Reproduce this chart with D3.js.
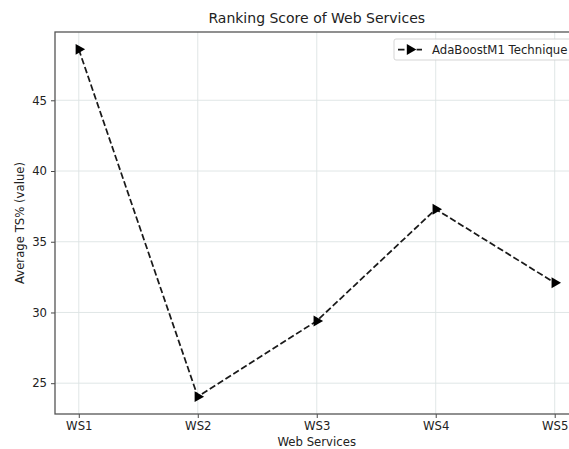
<!DOCTYPE html>
<html>
<head>
<meta charset="utf-8">
<script src="https://cdn.jsdelivr.net/npm/d3@7"></script>
<style>
  html, body { margin: 0; padding: 0; background: #fff; }
  svg { display: block; font-family: "DejaVu Sans", sans-serif; }
</style>
</head>
<body>
<svg id="chart" width="569" height="449"></svg>
<script>
// Ranking data per web service
const services = ["WS1", "WS2", "WS3", "WS4", "WS5"];
const scores = [48.6, 24.05, 29.4, 37.3, 32.1];
const yTicks = [25, 30, 35, 40, 45];
const seriesName = "AdaBoostM1 Technique";

const W = 569, H = 449;
const plot = { left: 55, top: 32, right: 578.5, bottom: 414 };
const labelSize = "11.7px";

const svg = d3.select("#chart");

// x: categorical positions with 5% padding on each side
const xIdx = d3.scaleLinear()
  .domain([-0.2, services.length - 1 + 0.2])
  .range([plot.left, plot.right]);

const yMin = d3.min(scores), yMax = d3.max(scores);
const pad = (yMax - yMin) * 0.05;
const y = d3.scaleLinear()
  .domain([yMin - pad, yMax + pad])
  .range([plot.bottom, plot.top]);

svg.append("defs").append("clipPath").attr("id", "plotClip")
  .append("rect")
  .attr("x", plot.left).attr("y", plot.top)
  .attr("width", plot.right - plot.left).attr("height", plot.bottom - plot.top);

// grid
const grid = svg.append("g").attr("clip-path", "url(#plotClip)");
grid.selectAll("line.vg").data(services).join("line")
  .attr("class", "vg")
  .attr("x1", (d, i) => xIdx(i)).attr("x2", (d, i) => xIdx(i))
  .attr("y1", plot.top).attr("y2", plot.bottom)
  .attr("stroke", "#dde3e3").attr("stroke-width", 0.9);
grid.selectAll("line.hg").data(yTicks).join("line")
  .attr("class", "hg")
  .attr("x1", plot.left).attr("x2", plot.right)
  .attr("y1", d => y(d)).attr("y2", d => y(d))
  .attr("stroke", "#dde3e3").attr("stroke-width", 0.9);

// axes
const xAxis = d3.axisBottom(xIdx)
  .tickValues(d3.range(services.length))
  .tickFormat(i => services[i])
  .tickSizeInner(4).tickSizeOuter(0).tickPadding(3.5);
const yAxis = d3.axisLeft(y)
  .tickValues(yTicks)
  .tickSizeInner(4).tickSizeOuter(0).tickPadding(4);

const gx = svg.append("g").attr("transform", `translate(0,${plot.bottom})`).call(xAxis);
const gy = svg.append("g").attr("transform", `translate(${plot.left},0)`).call(yAxis);
[gx, gy].forEach(g => {
  g.select(".domain").remove();
  g.selectAll(".tick line").attr("stroke", "#333").attr("stroke-width", 0.9);
  g.selectAll(".tick text").attr("fill", "#222")
    .style("font-family", "DejaVu Sans").style("font-size", labelSize);
});

// spines
svg.append("rect")
  .attr("x", plot.left).attr("y", plot.top)
  .attr("width", plot.right - plot.left).attr("height", plot.bottom - plot.top)
  .attr("fill", "none").attr("stroke", "#555").attr("stroke-width", 1.3);

// line series
const line = d3.line().x((d, i) => xIdx(i)).y(d => y(d));
const series = svg.append("g").attr("clip-path", "url(#plotClip)");
series.append("path")
  .datum(scores)
  .attr("d", line)
  .attr("fill", "none")
  .attr("stroke", "#1a1a1a")
  .attr("stroke-width", 1.75)
  .attr("stroke-dasharray", "6.5,2.8");

const tri = d3.symbol().type(d3.symbolTriangle).size(52);
series.selectAll("path.mk").data(scores).join("path")
  .attr("class", "mk")
  .attr("d", tri)
  .attr("transform", (d, i) => `translate(${xIdx(i)},${y(d)}) rotate(90)`)
  .attr("fill", "#000");

// title and axis labels
svg.append("text")
  .attr("x", (plot.left + plot.right) / 2).attr("y", 23)
  .attr("text-anchor", "middle")
  .attr("fill", "#222")
  .style("font-size", "14px")
  .text("Ranking Score of Web Services");

svg.append("text")
  .attr("x", (plot.left + plot.right) / 2).attr("y", 446)
  .attr("text-anchor", "middle")
  .attr("fill", "#222")
  .style("font-size", labelSize)
  .text("Web Services");

svg.append("text")
  .attr("transform", `translate(24,${(plot.top + plot.bottom) / 2}) rotate(-90)`)
  .attr("text-anchor", "middle")
  .attr("fill", "#222")
  .style("font-size", labelSize)
  .text("Average TS% (value)");

// legend
const lg = svg.append("g").attr("transform", "translate(394,39)");
lg.append("rect")
  .attr("x", 0).attr("y", 0).attr("width", 183).attr("height", 21)
  .attr("rx", 2)
  .attr("fill", "#fff").attr("fill-opacity", 0.8)
  .attr("stroke", "#d0d0d0").attr("stroke-width", 0.9);
lg.append("line")
  .attr("x1", 4).attr("x2", 28).attr("y1", 10.5).attr("y2", 10.5)
  .attr("stroke", "#1a1a1a").attr("stroke-width", 1.75)
  .attr("stroke-dasharray", "6.5,2.8");
lg.append("path")
  .attr("d", tri)
  .attr("transform", "translate(16,10.5) rotate(90)")
  .attr("fill", "#000");
lg.append("text")
  .attr("x", 38).attr("y", 15)
  .attr("fill", "#222")
  .style("font-size", labelSize)
  .text(seriesName);
</script>
</body>
</html>
